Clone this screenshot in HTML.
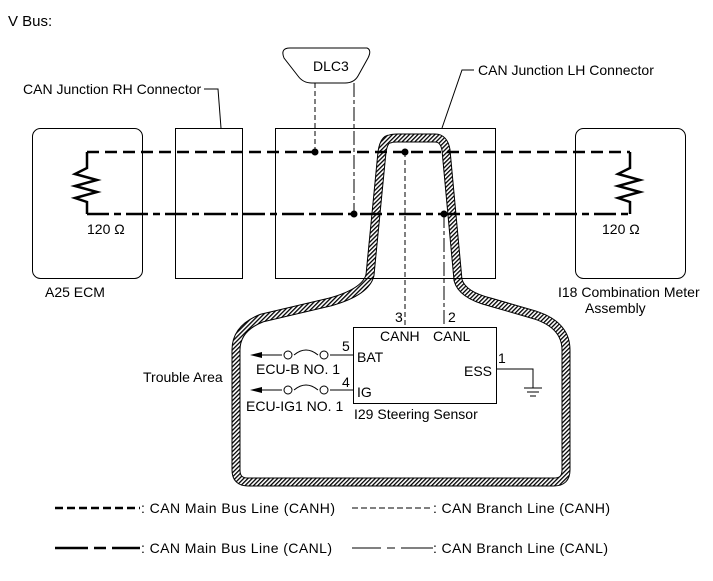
<!DOCTYPE html>
<html><head><meta charset="utf-8"><style>
html,body{margin:0;padding:0;background:#fff}
svg{display:block;font-family:"Liberation Sans",Arial,sans-serif}
</style></head><body>
<svg width="713" height="581" viewBox="0 0 713 581" xmlns="http://www.w3.org/2000/svg">
<defs>
<pattern id="h" width="3" height="3" patternUnits="userSpaceOnUse" patternTransform="rotate(45)">
<rect width="3" height="3" fill="#fff"/><rect width="1.3" height="3" fill="#000"/>
</pattern>
</defs>
<text x="8" y="26" font-size="15">V Bus:</text>

<g fill="none" stroke-linejoin="round">
<path d="M390,139 Q392,138 398,138 L435,138 Q444,138 446,150 L458,280 Q462,295 490,302 L535,315 Q566,325 566,350 L566,470 Q566,482 554,482 L248,482 Q236,482 236,470 L236,350 Q236,328 262,318 L330,302 Q366,292 370,275 L382,152 Q384,139 390,139 Z" stroke="#000" stroke-width="9"/>
<path d="M390,139 Q392,138 398,138 L435,138 Q444,138 446,150 L458,280 Q462,295 490,302 L535,315 Q566,325 566,350 L566,470 Q566,482 554,482 L248,482 Q236,482 236,470 L236,350 Q236,328 262,318 L330,302 Q366,292 370,275 L382,152 Q384,139 390,139 Z" stroke="url(#h)" stroke-width="7"/>
</g>

<g fill="none" stroke="#000" stroke-width="1">
<rect x="32.5" y="128.5" width="110" height="150" rx="8"/>
<rect x="175.5" y="128.5" width="67" height="150"/>
<rect x="275.5" y="128.5" width="220" height="150"/>
<rect x="575.5" y="128.5" width="110" height="150" rx="8"/>
<path d="M290,48 L367,48 Q372,50 368,58 L358,76 Q354,83 345,83 L312,83 Q303,83 298,76 L284,58 Q280,48 290,48 Z"/>
<rect x="353.5" y="327.5" width="143" height="76"/>
<path d="M204,89 L218,89 L221,128"/>
<path d="M474,70 L462,70 L442,128"/>
</g>
<g font-size="14">
<text x="313" y="71">DLC3</text>
<text x="23" y="94">CAN Junction RH Connector</text>
<text x="478" y="75">CAN Junction LH Connector</text>
</g>

<g fill="none" stroke="#000" stroke-width="2.5">
<path d="M87,152 L630,152" stroke-dasharray="12,6"/>
<path d="M87,214 L630,214" stroke-dasharray="22,5,7,5"/>
<path d="M87,152 V168 L75,174 L97,180 L75,186 L97,192 L75,198 L87,202 V214 M630,152 V168 L618,174 L640,180 L618,186 L640,192 L618,198 L630,202 V214"/>
</g>
<g font-size="14">
<text x="87" y="234">120 Ω</text>
<text x="602" y="234">120 Ω</text>
<text x="45" y="297">A25  ECM</text>
<text x="558" y="297">I18  Combination Meter</text>
<text x="585" y="313">Assembly</text>
</g>

<g fill="none" stroke="#000" stroke-width="1">
<path d="M315,83 V152 M405,152 V327" stroke-dasharray="5,3"/>
<path d="M354,83 V214 M444,214 V327" stroke-dasharray="14,3,4,3"/>
<path d="M496,369 H533 V388 M524,388 H542 M527,392 H539 M530,396 H536"/>
<path d="M258,355 H282 M294,355 Q306,345 318,355 M330,355 H353"/>
<path d="M258,390 H282 M294,390 Q306,380 318,390 M330,390 H353"/>
<circle cx="288" cy="355" r="4"/><circle cx="324" cy="355" r="4"/>
<circle cx="288" cy="390" r="4"/><circle cx="324" cy="390" r="4"/>
</g>
<path d="M250,355 L262,352 L262,358 Z M250,390 L262,387 L262,393 Z" fill="#000"/>
<g fill="#000"><circle cx="315" cy="152" r="3.5"/><circle cx="354" cy="214" r="3.5"/><circle cx="405" cy="152" r="3.5"/><circle cx="444" cy="214" r="3.5"/></g>
<g font-size="14">
<text x="395" y="322">3</text><text x="448" y="322">2</text>
<text x="380" y="341">CANH</text><text x="433" y="341">CANL</text>
<text x="357" y="362">BAT</text><text x="357" y="397">IG</text>
<text x="342" y="351">5</text><text x="342" y="387">4</text>
<text x="464" y="376">ESS</text><text x="498" y="363">1</text>
<text x="256" y="374">ECU-B NO. 1</text>
<text x="246" y="411">ECU-IG1 NO. 1</text>
<text x="354" y="419">I29  Steering Sensor</text>
<text x="143" y="382">Trouble Area</text>
</g>

<g fill="none" stroke="#000">
<path d="M55,508 H140" stroke-width="2.5" stroke-dasharray="8,4"/>
<path d="M55,548 H88 M94,548 H106 M112,548 H140" stroke-width="2.5"/>
<path d="M352,508 H433" stroke-width="1" stroke-dasharray="6,3"/>
<path d="M352,548 H381 M387,548 H395 M401,548 H433" stroke-width="1"/>
</g>
<g font-size="14">
<text x="141" y="513" textLength="194">: CAN Main Bus Line (CANH)</text>
<text x="141" y="553" textLength="191">: CAN Main Bus Line (CANL)</text>
<text x="433" y="513" textLength="177">: CAN Branch Line (CANH)</text>
<text x="433" y="553" textLength="175">: CAN Branch Line (CANL)</text>
</g>
</svg>
</body></html>
